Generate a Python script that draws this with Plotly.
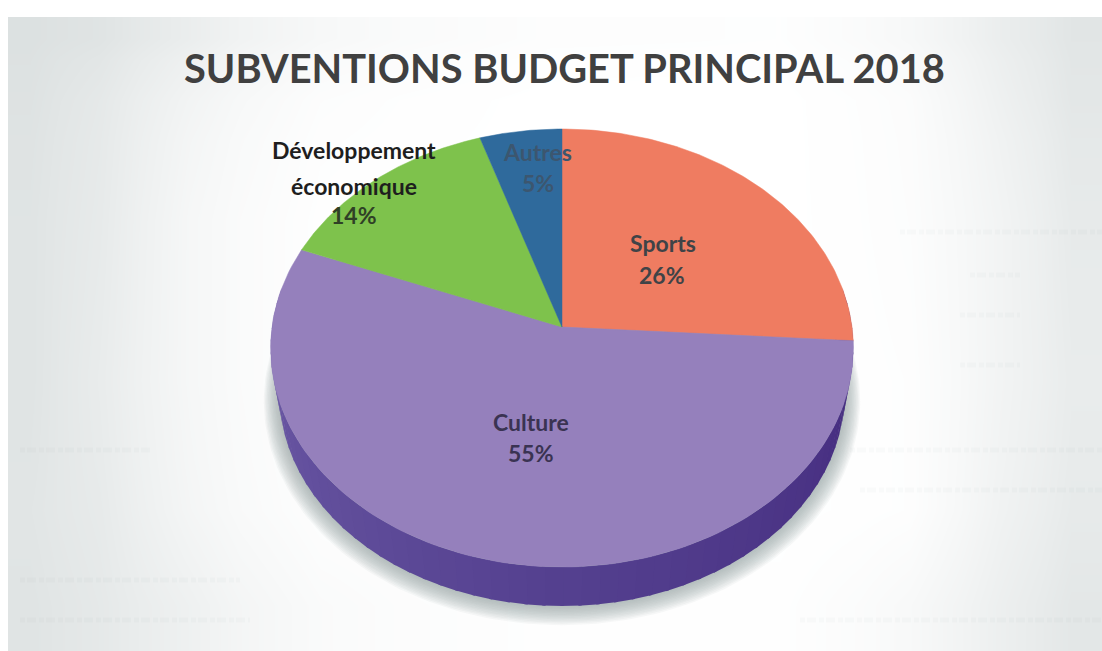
import numpy as np
import plotly.graph_objects as go

# ---- data
categories = ["Sports", "Culture", "Développement économique", "Autres"]
shares = [26, 55, 14, 5]
slice_colors = ["#EF7C61", "#9580BC", "#7EC24C", "#2F6A9C"]
title_text = "SUBVENTIONS BUDGET PRINCIPAL 2018"

# ---- soft scanned page background (0 = white, 1 = darkest)
bg_x = [0, 60, 140, 240, 400, 700, 860, 960, 1040, 1102]
bg_y = [17, 60, 140, 300, 460, 560, 651]
bg_shade = [
    [.95, .85, .55, .22, .06, .04, .22, .55, .80],
    [.90, .70, .35, .08, .00, .00, .10, .45, .75],
    [.85, .65, .25, .03, .00, .00, .08, .35, .65],
    [.85, .60, .25, .03, .00, .00, .05, .35, .60],
    [.80, .65, .30, .05, .00, .00, .05, .40, .65],
    [.85, .70, .45, .15, .03, .03, .20, .50, .75],
]
# faint show-through of the scanned page's text: x start, x end, y
ghost_start = [900, 970, 960, 960, 20, 850, 860, 20, 20, 800]
ghost_end = [1102, 1020, 1020, 1020, 150, 1102, 1102, 240, 250, 1102]
ghost_y = [232, 275, 315, 365, 450, 450, 490, 580, 620, 620]

# ---- perspective view of the pie
CX, CY = 562, 327
A, B, K = 290, 217, 0.0959


def project(theta_deg, scale=1.0, dy=0.0):
    t = np.radians(theta_deg)
    u, v = np.sin(t) * scale, np.cos(t) * scale
    den = 1 + K * np.cos(t) * scale
    return CX + A * u / den, CY - B * v / den + dy


def hexmix(c1, c2, f):
    a = np.array([int(c1[i:i + 2], 16) for i in (1, 3, 5)])
    b = np.array([int(c2[i:i + 2], 16) for i in (1, 3, 5)])
    m = (a + (b - a) * f).round().astype(int)
    return f"rgb({m[0]},{m[1]},{m[2]})"


fig = go.Figure()
fig.add_trace(go.Heatmap(
    x=bg_x, y=bg_y, z=bg_shade, zmin=0, zmax=1, zsmooth="best", showscale=False,
    colorscale=[[0, "#FFFFFF"], [1, "#DADFDF"]], hoverinfo="skip"))

for x0, x1, y0 in zip(ghost_start, ghost_end, ghost_y):
    fig.add_trace(go.Scatter(x=[x0, x1], y=[y0, y0], mode="lines", hoverinfo="skip", showlegend=False,
                             line=dict(width=5, color="rgba(120,130,130,0.035)", dash="5px,2px,9px,3px")))

# soft shadow under the pie
ang = np.linspace(0, 360, 241)
for s in np.linspace(1.055, 1.0, 14):
    x, y = project(ang, s * 0.97, 47 + (s - 1) * 90)
    fig.add_trace(go.Scatter(x=x, y=y, mode="lines", fill="toself", line=dict(width=0),
                             fillcolor="rgba(150,160,158,0.075)", hoverinfo="skip", showlegend=False))

# side wall, shaded across the front
S_LOW, D_LOW = 0.97, 47
seg = np.linspace(80, 280, 61)
for t0, t1 in zip(seg[:-1], seg[1:]):
    f = (0.5 * (t0 + t1) - 80) / 200
    col = hexmix("#42287C", "#54408F", f / 0.5) if f < 0.5 else hexmix("#54408F", "#6E5CA8", (f - 0.5) / 0.5)
    tt = np.linspace(t0 - 0.3, t1 + 0.3, 4)
    xl, yl = project(tt, S_LOW, D_LOW)
    xu, yu = project(tt[::-1], 1.0, 0)
    fig.add_trace(go.Scatter(x=np.r_[xl, xu], y=np.r_[yl, yu], mode="lines", fill="toself",
                             line=dict(width=0), fillcolor=col, hoverinfo="skip", showlegend=False))

# top face: one wedge per share, clockwise from twelve o'clock
start = 0.0
for name, val, col in zip(categories, shares, slice_colors):
    end = start + val / sum(shares) * 360
    tt = np.linspace(start, end, 120)
    xr, yr = project(tt)
    fig.add_trace(go.Scatter(x=np.r_[CX, xr, CX], y=np.r_[CY, yr, CY], mode="lines", fill="toself",
                             line=dict(width=0.5, color=col), fillcolor=col, name=name,
                             hoverinfo="name", showlegend=False))
    start = end

FONT = "Lato, 'Open Sans', sans-serif"


def label(x, y, text, color, size=23):
    fig.add_annotation(x=x, y=y, text=f"<b>{text}</b>", showarrow=False,
                       font=dict(family=FONT, size=size, color=color))


label(564, 67, title_text, "#404040", 39.8)
label(663, 243, "Sports", "#3F4347")
label(662, 275, f"{shares[0]}%", "#3F4347")
label(531, 422, "Culture", "#3A3352")
label(531, 453, f"{shares[1]}%", "#3A3352")
label(354, 150, "Développement", "#1E1E1E")
label(354, 186, "économique", "#1E1E1E")
label(354, 215, f"{shares[2]}%", "#2F4026")
label(537, 152, "Autres", "#3C566F")
label(538, 183, f"{shares[3]}%", "#3C566F")

# Body margin removed so that data units equal window pixels; left 8 px stay white.
fig.add_shape(type="rect", xref="paper", yref="paper", x0=0, x1=8 / 1102, y0=0, y1=1,
              fillcolor="white", line=dict(width=0), layer="above")
fig.update_layout(
    width=1102, height=651, margin=dict(l=0, r=0, t=0, b=0),
    paper_bgcolor="white", plot_bgcolor="white", showlegend=False,
    xaxis=dict(range=[0, 1102], visible=False, fixedrange=True),
    yaxis=dict(range=[651, 0], visible=False, fixedrange=True),
)
fig.write_html("out.html", config={"displayModeBar": False},
               post_script="document.body.style.margin='0';")
